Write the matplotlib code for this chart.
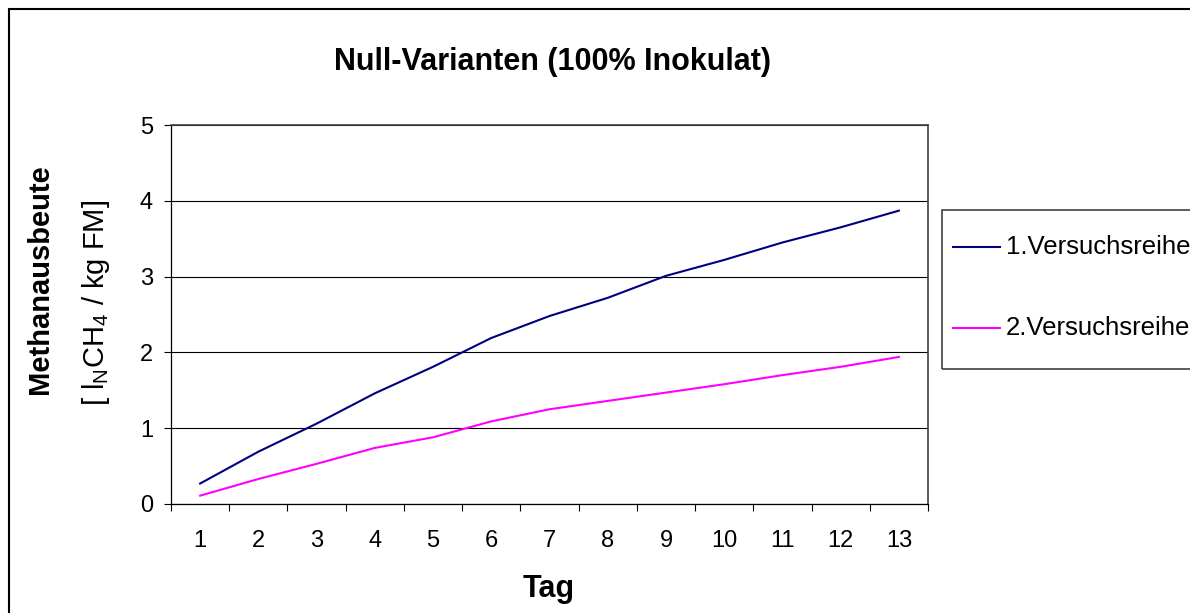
import matplotlib
matplotlib.use("Agg")
from matplotlib import pyplot as plt
from matplotlib.patches import Rectangle
from matplotlib.lines import Line2D
import numpy as np

plt.rcParams['font.family'] = ['Liberation Sans', 'DejaVu Sans']
plt.rcParams['mathtext.fontset'] = 'custom'
plt.rcParams['mathtext.rm'] = 'Liberation Sans'

# Data
tage = list(range(1, 14))
reihe1 = [0.27, 0.69, 1.06, 1.46, 1.81, 2.19, 2.48, 2.72, 3.01, 3.22, 3.45, 3.65, 3.87]
reihe2 = [0.11, 0.33, 0.53, 0.74, 0.88, 1.09, 1.25, 1.36, 1.47, 1.58, 1.70, 1.81, 1.94]
labels = ['1.Versuchsreihe', '2.Versuchsreihe']
colors = ['#000080', '#ff00ff']
yticks = [0, 1, 2, 3, 4, 5]

W, H = 1190, 613
fig = plt.figure(figsize=(W / 100, H / 100), dpi=100)
ax = fig.add_axes([171 / W, 1 - 504 / H, (928 - 171) / W, (504 - 125) / H])

ax.plot(tage, reihe1, color=colors[0], lw=1.5)
ax.plot(tage, reihe2, color=colors[1], lw=1.5)

ax.set_xlim(0.5, 13.5)
ax.set_ylim(0, 5)
ax.set_yticks(yticks)
ax.grid(axis='y', color='black', lw=0.8)
ax.set_axisbelow(True)

ax.set_xticks(tage)
ax.set_xticks(np.arange(0.5, 14, 1), minor=True)
ax.tick_params(axis='x', which='major', length=0, pad=19, labelsize=17)
ax.tick_params(axis='x', which='minor', length=5, width=0.8, direction='out')
ax.tick_params(axis='y', length=5, width=0.8, pad=8, labelsize=17)

for s in ['left', 'bottom']:
    ax.spines[s].set_color('black')
    ax.spines[s].set_linewidth(0.9)
for s in ['top', 'right']:
    ax.spines[s].set_color('#404040')
    ax.spines[s].set_linewidth(1.2)

fig.text(553 / W, 1 - 62 / H, 'Null-Varianten (100% Inokulat)', ha='center', va='center',
         fontsize=22, fontweight='bold')
fig.text(549 / W, 1 - 589 / H, 'Tag', ha='center', va='center', fontsize=22, fontweight='bold')
fig.text(40 / W, 1 - 279 / H, 'Methanausbeute', rotation=90, ha='center', va='center',
         fontsize=21, fontweight='bold')
fig.text(96 / W, 1 - 303 / H, r'[ l$_\mathregular{N}$CH$_\mathregular{4}$ / kg FM]', rotation=90,
         ha='center', va='center', fontsize=21)

# legend box drawn by hand to match the Excel layout
fig.patches.append(Rectangle((942 / W, 1 - 369 / H), 260 / W, 159 / H, transform=fig.transFigure,
                             fill=False, edgecolor='#404040', lw=1.2))
for lab, col, yc in zip(labels, colors, [247, 328]):
    fig.add_artist(Line2D([953 / W, 1000 / W], [1 - yc / H, 1 - yc / H], color=col, lw=1.5,
                          transform=fig.transFigure))
    fig.text(1006 / W, 1 - yc / H, lab, ha='left', va='center', fontsize=18.5)

# chart area border
fig.patches.append(Rectangle((9 / W, -0.1), 1.2, (H - 9) / H + 0.1, transform=fig.transFigure,
                             fill=False, edgecolor='black', lw=1.5))

fig.savefig('out.png', dpi=100)
